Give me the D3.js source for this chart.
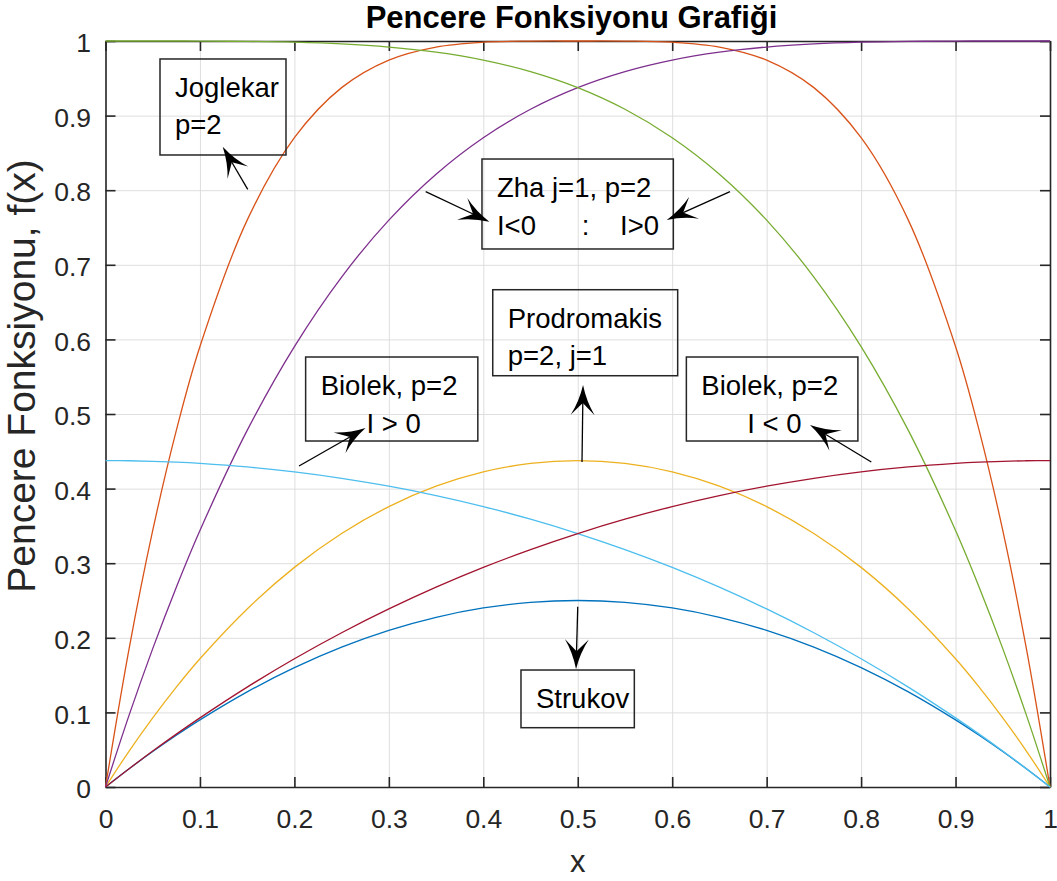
<!DOCTYPE html>
<html>
<head>
<meta charset="utf-8">
<script src="https://cdnjs.cloudflare.com/ajax/libs/d3/7.8.5/d3.min.js"></script>
<style>
body{margin:0;background:#fff;}
text{font-family:"Liberation Sans",Arial,Helvetica,sans-serif;}
</style>
</head>
<body>
<svg id="chart"></svg>
<script>

//x samples
var xVals=[0,0.025,0.05,0.075,0.1,0.15,0.2,0.25,0.3,0.35,0.4,0.45,0.5,0.55,0.6,0.65,0.7,0.75,0.8,0.85,0.9,0.925,0.95,0.975,1];

//window function values
var strukov=[0,0.0244,0.0475,0.0694,0.0900,0.1275,0.1600,0.1875,0.2100,0.2275,0.2400,0.2475,0.2500,0.2475,0.2400,0.2275,0.2100,0.1875,0.1600,0.1275,0.0900,0.0694,0.0475,0.0244,0];
var joglekar=[0,0.1855,0.3439,0.4780,0.5904,0.7599,0.8704,0.9375,0.9744,0.9919,0.9984,0.9999,1.0000,0.9999,0.9984,0.9919,0.9744,0.9375,0.8704,0.7599,0.5904,0.4780,0.3439,0.1855,0];
var prodromakis=[0,0.0482,0.0927,0.1339,0.1719,0.2387,0.2944,0.3398,0.3759,0.4032,0.4224,0.4337,0.4375,0.4337,0.4224,0.4032,0.3759,0.3398,0.2944,0.2387,0.1719,0.1339,0.0927,0.0482,0];
var zhaNeg=[0,0.0963,0.1855,0.2679,0.3439,0.4780,0.5904,0.6836,0.7599,0.8215,0.8704,0.9085,0.9375,0.9590,0.9744,0.9850,0.9919,0.9961,0.9984,0.9995,0.9999,1.0000,1.0000,1.0000,1.0000];
var zhaPos=[1.0000,1.0000,1.0000,1.0000,0.9999,0.9995,0.9984,0.9961,0.9919,0.9850,0.9744,0.9590,0.9375,0.9085,0.8704,0.8215,0.7599,0.6836,0.5904,0.4780,0.3439,0.2679,0.1855,0.0963,0];
var biolekPos=[0.4375,0.4373,0.4366,0.4354,0.4337,0.4290,0.4224,0.4138,0.4032,0.3906,0.3759,0.3590,0.3398,0.3183,0.2944,0.2679,0.2387,0.2068,0.1719,0.1339,0.0927,0.0709,0.0482,0.0245,0];
var biolekNeg=[0,0.0245,0.0482,0.0709,0.0927,0.1339,0.1719,0.2068,0.2387,0.2679,0.2944,0.3183,0.3398,0.3590,0.3759,0.3906,0.4032,0.4138,0.4224,0.4290,0.4337,0.4354,0.4366,0.4373,0.4375];

var seriesList=[strukov,joglekar,prodromakis,zhaNeg,zhaPos,biolekPos,biolekNeg];
var seriesColors=["#0072BD","#D95319","#EDB120","#7E2F8E","#77AC30","#4DBEEE","#A2142F"];

//ticks
var tickVals=[0,0.1,0.2,0.3,0.4,0.5,0.6,0.7,0.8,0.9,1];
var tickLabels=["0","0.1","0.2","0.3","0.4","0.5","0.6","0.7","0.8","0.9","1"];

//text boxes: box [x0,yTop,x1,yBottom] and arrows [tailX,tailY,tipX,tipY] in data units
var annotations=[
	{lines:["Joglekar","p=2"], box:[0.0577,0.9759,0.1911,0.8472], arrows:[[0.1506,0.8012,0.1241,0.8583]]},
	{lines:["Zha j=1, p=2","I<0      :    I>0"], box:[0.3986,0.8418,0.6012,0.7212], arrows:[[0.3390,0.7980,0.4064,0.7578],[0.6612,0.7980,0.5942,0.7601]]},
	{lines:["Prodromakis","p=2, j=1"], box:[0.4100,0.6666,0.6058,0.5513], arrows:[[0.5045,0.4357,0.5056,0.5389]]},
	{lines:["Biolek, p=2","      I > 0"], box:[0.2119,0.5764,0.3942,0.4638], arrows:[[0.2049,0.4303,0.2753,0.4812]]},
	{lines:["Biolek, p=2","      I < 0"], box:[0.6150,0.5764,0.7966,0.4638], arrows:[[0.8108,0.4357,0.7459,0.4853]]},
	{lines:["Strukov"], box:[0.4399,0.1568,0.5599,0.0795], arrows:[[0.5000,0.2417,0.4982,0.1578]]}
];

var width=1057, height=881;
var plotLeft=105.5, plotRight=1050, plotTop=41, plotBottom=787;
var axisColor="#262626";

var svg=d3.select("#chart")
	.attr("width",width)
	.attr("height",height);

svg.append("rect")
	.attr("width",width)
	.attr("height",height)
	.attr("fill","#fff");

var x=d3.scaleLinear().domain([0,1]).range([plotLeft,plotRight]);
var y=d3.scaleLinear().domain([0,1]).range([plotBottom,plotTop]);

//grid
svg.append("g")
	.attr("transform","translate(0,"+plotBottom+")")
	.call(d3.axisBottom(x).tickValues(tickVals).tickSize(-(plotBottom-plotTop)).tickFormat(""))
	.call(function(g){g.select(".domain").remove();})
	.selectAll("line")
	.attr("stroke","#dedede")
	.attr("stroke-width",1);

svg.append("g")
	.attr("transform","translate("+plotLeft+",0)")
	.call(d3.axisLeft(y).tickValues(tickVals).tickSize(-(plotRight-plotLeft)).tickFormat(""))
	.call(function(g){g.select(".domain").remove();})
	.selectAll("line")
	.attr("stroke","#dedede")
	.attr("stroke-width",1);

//axes with inward ticks on four sides
function styleAxis(g){
	g.select(".domain").attr("stroke",axisColor).attr("stroke-width",1.6);
	g.selectAll(".tick line").attr("stroke",axisColor).attr("stroke-width",1.6);
	g.selectAll(".tick text")
		.attr("fill",axisColor)
		.style("font-size","26.5px");
}

svg.append("g")
	.attr("transform","translate(0,"+plotBottom+")")
	.call(d3.axisBottom(x).tickValues(tickVals).tickSizeInner(-10).tickSizeOuter(0).tickPadding(22)
		.tickFormat(function(d,i){return tickLabels[i];}))
	.call(styleAxis);

svg.append("g")
	.attr("transform","translate(0,"+plotTop+")")
	.call(d3.axisTop(x).tickValues(tickVals).tickSizeInner(-10).tickSizeOuter(0).tickFormat(""))
	.call(styleAxis);

svg.append("g")
	.attr("transform","translate("+plotLeft+",0)")
	.call(d3.axisLeft(y).tickValues(tickVals).tickSizeInner(-10).tickSizeOuter(0).tickPadding(14.5)
		.tickFormat(function(d,i){return tickLabels[i];}))
	.call(styleAxis)
	.selectAll(".tick text")
	.attr("dy","0.4em");

svg.append("g")
	.attr("transform","translate("+plotRight+",0)")
	.call(d3.axisRight(y).tickValues(tickVals).tickSizeInner(-10).tickSizeOuter(0).tickFormat(""))
	.call(styleAxis);

//curves
var line=d3.line()
	.x(function(d,i){return x(xVals[i]);})
	.y(function(d){return y(d);})
	.curve(d3.curveCatmullRom.alpha(0.5));

svg.selectAll("path.curve")
	.data(seriesList)
	.enter()
	.append("path")
	.attr("class","curve")
	.attr("d",line)
	.attr("fill","none")
	.attr("stroke",function(d,i){return seriesColors[i];})
	.attr("stroke-width",1.3);

//title and labels
svg.append("text")
	.attr("x",571.5)
	.attr("y",28)
	.attr("text-anchor","middle")
	.style("font-size","31px")
	.style("font-weight","bold")
	.attr("fill","#000")
	.text("Pencere Fonksiyonu Grafiği");

svg.append("text")
	.attr("x",(plotLeft+plotRight)/2)
	.attr("y",872)
	.attr("text-anchor","middle")
	.style("font-size","31px")
	.attr("fill",axisColor)
	.text("x");

svg.append("text")
	.attr("transform","translate(35,376) rotate(-90)")
	.attr("text-anchor","middle")
	.style("font-size","39px")
	.attr("fill",axisColor)
	.text("Pencere Fonksiyonu, f(x)");

//annotations
var headLen=30, headHalf=12, headNotch=18;
var headPath="M0,0 Q"+(-headLen*0.55)+","+(headHalf*0.3)+" "+(-headLen)+","+headHalf
	+" L"+(-headNotch)+",0 L"+(-headLen)+","+(-headHalf)
	+" Q"+(-headLen*0.55)+","+(-headHalf*0.3)+" 0,0Z";

annotations.forEach(function(a){
	var bx0=x(a.box[0]), by0=y(a.box[1]), bx1=x(a.box[2]), by1=y(a.box[3]);

	svg.append("rect")
		.attr("x",bx0)
		.attr("y",by0)
		.attr("width",bx1-bx0)
		.attr("height",by1-by0)
		.attr("fill","none")
		.attr("stroke",axisColor)
		.attr("stroke-width",1.5);

	a.lines.forEach(function(t,i){
		svg.append("text")
			.attr("x",bx0+15)
			.attr("y",by0+38+i*37.5)
			.style("font-size","27.5px")
			.style("white-space","pre")
			.attr("fill","#000")
			.text(t);
	});

	a.arrows.forEach(function(r){
		var x1=x(r[0]), y1=y(r[1]), x2=x(r[2]), y2=y(r[3]);
		var ang=Math.atan2(y2-y1,x2-x1);
		svg.append("line")
			.attr("x1",x1)
			.attr("y1",y1)
			.attr("x2",x2-Math.cos(ang)*headNotch)
			.attr("y2",y2-Math.sin(ang)*headNotch)
			.attr("stroke","#000")
			.attr("stroke-width",1.3);
		svg.append("path")
			.attr("d",headPath)
			.attr("transform","translate("+x2+","+y2+") rotate("+(ang*180/Math.PI)+")")
			.attr("fill","#000");
	});
});

</script>
</body>
</html>
